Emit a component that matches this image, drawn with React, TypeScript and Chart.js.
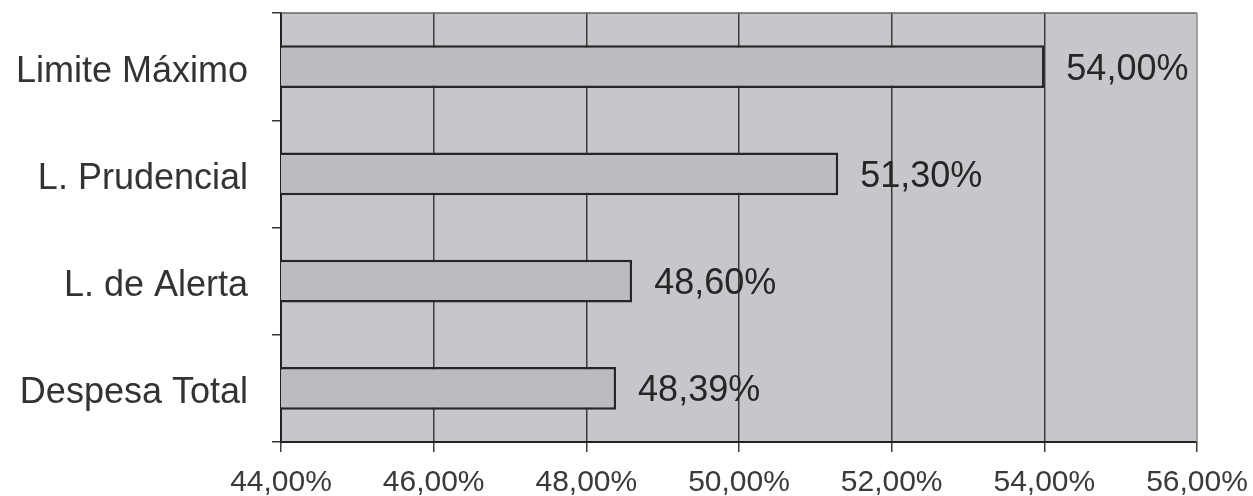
import React, { useEffect, useRef } from "react";
import { Chart, registerables } from "chart.js";

Chart.register(...registerables);

const categories: string[] = ["Limite Máximo", "L. Prudencial", "L. de Alerta", "Despesa Total"];
const values: number[] = [54.0, 51.3, 48.6, 48.39];
const xMin = 44;
const xMax = 56;
const xStep = 2;

const fmt = (v: number) => v.toFixed(2).replace(".", ",") + "%";

const FONT = "'Liberation Sans', Arial, Helvetica, sans-serif";

const plotBg = {
  id: "plotBg",
  beforeDraw(chart: any) {
    const { ctx, chartArea: a } = chart;
    ctx.save();
    ctx.fillStyle = "#c7c7cb";
    ctx.fillRect(a.left, a.top, a.right - a.left, a.bottom - a.top);
    ctx.restore();
  },
  afterDraw(chart: any) {
    const { ctx, chartArea: a } = chart;
    ctx.save();
    ctx.lineWidth = 1.5;
    ctx.strokeStyle = "#666";
    ctx.beginPath();
    ctx.moveTo(a.left, a.top);
    ctx.lineTo(a.right, a.top);
    ctx.stroke();
    ctx.strokeStyle = "#9a9a9a";
    ctx.beginPath();
    ctx.moveTo(a.right, a.top);
    ctx.lineTo(a.right, a.bottom);
    ctx.stroke();
    ctx.restore();
  },
};

const valueLabels = {
  id: "valueLabels",
  afterDatasetsDraw(chart: any) {
    const { ctx } = chart;
    const meta = chart.getDatasetMeta(0);
    ctx.save();
    ctx.font = `36px ${FONT}`;
    ctx.fillStyle = "#262626";
    ctx.textAlign = "left";
    ctx.textBaseline = "middle";
    meta.data.forEach((el: any, i: number) => {
      ctx.fillText(fmt(values[i]), el.x + 22, el.y + 3);
    });
    ctx.restore();
  },
};

export default function App() {
  const ref = useRef<HTMLCanvasElement | null>(null);

  useEffect(() => {
    document.body.style.margin = "0";
    if (!ref.current) return;
    const chart = new Chart(ref.current, {
      type: "bar",
      data: {
        labels: categories,
        datasets: [
          {
            data: values,
            backgroundColor: "#bcbcc0",
            borderColor: "#262626",
            borderWidth: 2.5,
            borderSkipped: false,
            categoryPercentage: 0.8,
            barPercentage: 0.5,
          },
        ],
      },
      options: {
        indexAxis: "y",
        animation: false,
        responsive: true,
        maintainAspectRatio: false,
        layout: { padding: { top: 13, right: 56, left: 0, bottom: 0 } },
        plugins: {
          legend: { display: false },
          tooltip: { enabled: false },
          title: { display: false },
        },
        scales: {
          x: {
            type: "linear",
            min: xMin,
            max: xMax,
            ticks: {
              stepSize: xStep,
              callback: (v: any) => fmt(Number(v)),
              font: { family: FONT, size: 30 },
              color: "#3a3a3a",
              padding: 13,
              maxRotation: 0,
            },
            grid: {
              color: (c: any) => (c.tick && c.tick.value === xMax ? "#9a9a9a" : "#3c3c3c"),
              lineWidth: 1.5,
              tickLength: 10,
              tickColor: "#3c3c3c",
            },
            border: { display: true, color: "#222", width: 2 },
            afterFit: (s: any) => {
              s.height = 54;
              s.paddingLeft = 0;
              s.paddingRight = 0;
              s.paddingTop = 0;
              s.paddingBottom = 0;
            },
          },
          y: {
            type: "category",
            ticks: {
              font: { family: FONT, size: 36 },
              color: "#333",
              padding: 24,
              labelOffset: 5,
            },
            grid: {
              offset: true,
              drawOnChartArea: false,
              tickLength: 9,
              color: "#333",
              lineWidth: 1.5,
            },
            border: { display: true, color: "#222", width: 2 },
            afterFit: (s: any) => {
              s.width = 281;
              s.paddingTop = 0;
              s.paddingBottom = 0;
              s.paddingLeft = 0;
              s.paddingRight = 0;
            },
          },
        },
      },
      plugins: [plotBg, valueLabels],
    });
    return () => chart.destroy();
  }, []);

  return (
    <div style={{ position: "relative", width: "1253px", height: "496px", background: "#fff" }}>
      <canvas ref={ref} />
    </div>
  );
}
